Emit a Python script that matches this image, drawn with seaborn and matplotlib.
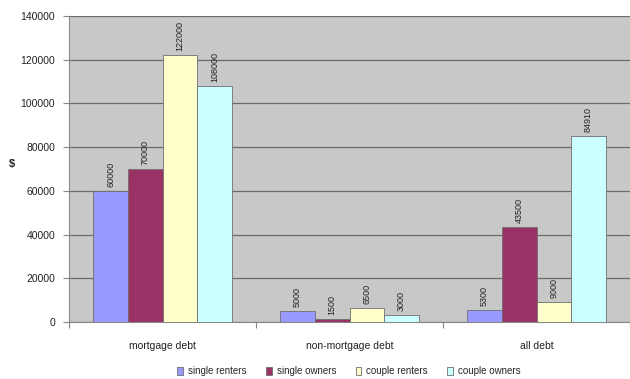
import matplotlib
matplotlib.use("Agg")
import matplotlib.pyplot as plt
import seaborn as sns
import pandas as pd
from matplotlib.patches import Patch

categories = ["mortgage debt", "non-mortgage debt", "all debt"]
groups = ["single renters", "single owners", "couple renters", "couple owners"]
single_renters = [60000, 5000, 5300]
single_owners = [70000, 1500, 43500]
couple_renters = [122000, 6500, 9000]
couple_owners = [108000, 3000, 84910]
yticks = [0, 20000, 40000, 60000, 80000, 100000, 120000, 140000]
colors = ["#9999FF", "#993366", "#FFFFCC", "#CCFFFF"]

series = [single_renters, single_owners, couple_renters, couple_owners]
rows = []
for g, vals in zip(groups, series):
    for c, v in zip(categories, vals):
        rows.append({"category": c, "group": g, "value": v})
df = pd.DataFrame(rows)

sns.set_theme(style="white")
plt.rcParams["font.family"] = ["Liberation Sans", "DejaVu Sans"]

fig = plt.figure(figsize=(6.3, 3.79), dpi=100)
ax = fig.add_axes([69/630, 1 - 322/379, 561/630, (322 - 16)/379])
ax.set_facecolor("#C8C8C8")

sns.barplot(data=df, x="category", y="value", hue="group", order=categories,
            hue_order=groups, palette=colors, saturation=1, width=0.74, gap=0,
            edgecolor="#6E6E6E", linewidth=0.6, errorbar=None, ax=ax,
            legend=False, zorder=3)

for cont, vals in zip(ax.containers, series):
    ax.bar_label(cont, labels=[str(v) for v in vals], rotation=90, padding=3,
                 fontsize=6.5, color="#222222")

ax.set_ylim(0, 140000)
ax.set_xlim(-0.5, 2.5)
ax.set_yticks(yticks)
ax.set_yticklabels([str(t) for t in yticks], fontsize=7.5, color="#222222")
ax.yaxis.grid(True, color="#6A6A6A", linewidth=0.9, zorder=0)
ax.set_axisbelow(True)
ax.set_xlabel("")
ax.set_ylabel("")
fig.text(12/630, 1 - 164/379, "$", fontsize=8, fontweight="bold",
         color="#222222", ha="center", va="center")
ax.tick_params(axis="x", length=0, pad=14, labelsize=7.5, labelcolor="#222222")
ax.tick_params(axis="y", left=True, length=4, width=0.8, color="#888888", pad=6)
ax.set_xticks([-0.5, 0.5, 1.5, 2.5], minor=True)
ax.tick_params(axis="x", which="minor", bottom=True, length=4, width=0.8, color="#888888")

for s in ["top", "right"]:
    ax.spines[s].set_visible(False)
ax.spines["left"].set_color("#888888")
ax.spines["bottom"].set_color("#888888")
ax.spines["left"].set_linewidth(0.8)
ax.spines["bottom"].set_linewidth(0.8)

handles = [Patch(facecolor=c, edgecolor="#6E6E6E", linewidth=0.6) for c in colors]
fig.legend(handles, groups, loc="center", bbox_to_anchor=(349/630, 1 - 371/379),
           ncol=4, frameon=False, fontsize=7, handlelength=0.6, handleheight=0.9,
           handletextpad=0.5, columnspacing=2.0)

fig.savefig("out.png", dpi=100, facecolor="white")
